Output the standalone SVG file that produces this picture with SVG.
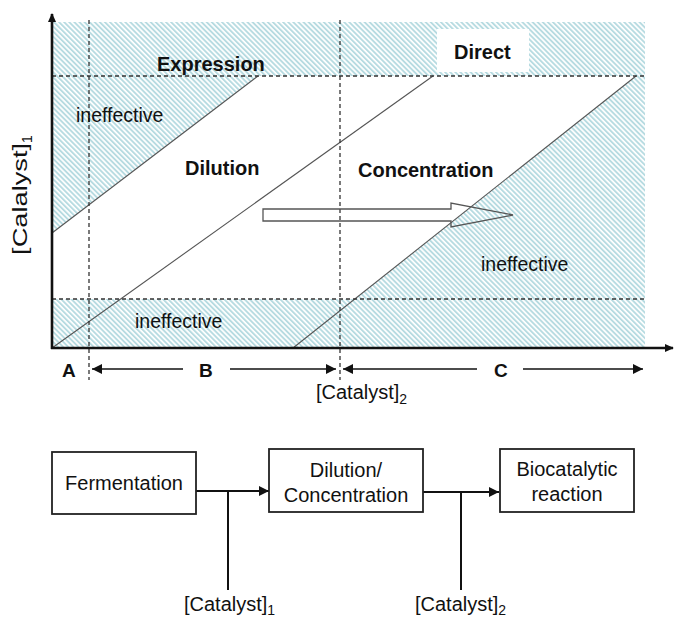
<svg xmlns="http://www.w3.org/2000/svg" width="674" height="620" viewBox="0 0 674 620">
  <defs>
    <pattern id="hatch" patternUnits="userSpaceOnUse" width="3.6" height="3.6" patternTransform="rotate(-45)">
      <rect width="3.6" height="3.6" fill="#ffffff"/>
      <rect width="1.9" height="3.6" fill="#b7dbe1"/>
    </pattern>
    <marker id="tri" viewBox="0 0 10 10" refX="10" refY="5" markerWidth="10" markerHeight="10" markerUnits="userSpaceOnUse" orient="auto">
      <path d="M0,0 L10,5 L0,10 Z" fill="#111"/>
    </marker>
    <marker id="axhead" viewBox="0 0 10 10" refX="9" refY="5" markerWidth="9" markerHeight="9" markerUnits="userSpaceOnUse" orient="auto">
      <path d="M0,0.5 L10,5 L0,9.5 Z" fill="#111"/>
    </marker>
  </defs>
  <style>
    .t { font-family: "Liberation Sans", Arial, sans-serif; fill: #111; }
    .b { font-weight: bold; font-size: 20px; }
    .n { font-size: 19.5px; }
    .lab { font-size: 19px; font-weight: bold; }
    .dash { stroke: #333; stroke-width: 1.3; stroke-dasharray: 4 3; fill: none; }
    .diag { stroke: #555; stroke-width: 1.1; fill: none; }
    .axis { stroke: #111; stroke-width: 2.6; fill: none; }
    .box { fill: #fff; stroke: #222; stroke-width: 1.8; }
    .conn { stroke: #111; stroke-width: 2; fill: none; }
    .rng { stroke: #111; stroke-width: 1.4; fill: none; }
    .bt { font-size: 20px; }
  </style>

  <g id="plot">
    <g id="hatched-regions" fill="url(#hatch)">
      <rect x="52" y="22" width="593" height="54"/>
      <polygon points="52,76 258,76 52,233"/>
      <rect x="52" y="299" width="593" height="49"/>
      <polygon points="636,76 645,76 645,299 355,299"/>
    </g>
    <rect id="direct-bg" x="437" y="29" width="92" height="43" fill="#fff"/>
    <g id="diagonals">
      <line class="diag" x1="52" y1="233" x2="258" y2="76"/>
      <line class="diag" x1="52" y1="348" x2="433" y2="76"/>
      <line class="diag" x1="293" y1="348" x2="636" y2="76"/>
    </g>
    <g id="dashed-lines">
      <line class="dash" x1="52" y1="76" x2="645" y2="76"/>
      <line class="dash" x1="52" y1="299" x2="645" y2="299"/>
      <line class="dash" x1="89" y1="20" x2="89" y2="380"/>
      <line class="dash" x1="340" y1="20" x2="340" y2="380"/>
    </g>
    <polygon id="shift-arrow" points="263,209 451,209 451,203 513,215 451,227 451,221 263,221" fill="none" stroke="#555" stroke-width="1.3"/>
    <g id="axes">
      <line class="axis" x1="52" y1="349" x2="52" y2="14" marker-end="url(#axhead)"/>
      <line class="axis" x1="51" y1="348" x2="673" y2="348" marker-end="url(#axhead)"/>
    </g>
    <g id="region-labels">
      <text class="t b" x="157" y="71">Expression</text>
      <text class="t b" x="454" y="59">Direct</text>
      <text class="t b" x="185" y="175">Dilution</text>
      <text class="t b" x="358" y="177">Concentration</text>
      <text class="t n" x="76" y="122">ineffective</text>
      <text class="t n" x="135" y="328">ineffective</text>
      <text class="t n" x="481" y="271">ineffective</text>
    </g>
    <g id="ranges">
      <text class="t lab" x="62" y="377">A</text>
      <text class="t lab" x="199" y="377">B</text>
      <text class="t lab" x="494" y="377">C</text>
      <line class="rng" x1="183" y1="369" x2="92" y2="369" marker-end="url(#tri)"/>
      <line class="rng" x1="230" y1="369" x2="336" y2="369" marker-end="url(#tri)"/>
      <line class="rng" x1="477" y1="369" x2="343" y2="369" marker-end="url(#tri)"/>
      <line class="rng" x1="523" y1="369" x2="643" y2="369" marker-end="url(#tri)"/>
    </g>
    <text class="t bt" x="316" y="399">[Catalyst]<tspan font-size="14" dy="5">2</tspan></text>
    <text class="t bt" transform="translate(27,195) rotate(-90)" text-anchor="middle"><tspan textLength="112" lengthAdjust="spacingAndGlyphs">[Calalyst]</tspan><tspan font-size="14" dy="5">1</tspan></text>
  </g>

  <g id="connectors">
    <line class="conn" x1="196" y1="491" x2="269" y2="491" marker-end="url(#tri)"/>
    <line class="conn" x1="228" y1="491" x2="228" y2="590"/>
    <line class="conn" x1="423" y1="492" x2="499" y2="492" marker-end="url(#tri)"/>
    <line class="conn" x1="461" y1="492" x2="461" y2="590"/>
  </g>

  <g id="node-fermentation">
    <rect class="box" x="52" y="452" width="144" height="62"/>
    <text class="t bt" x="124" y="490" text-anchor="middle">Fermentation</text>
  </g>
  <g id="node-dilution">
    <rect class="box" x="269" y="449" width="154" height="63"/>
    <text class="t bt" x="346" y="477" text-anchor="middle">Dilution/</text>
    <text class="t bt" x="346" y="502" text-anchor="middle">Concentration</text>
  </g>
  <g id="node-biocatalytic">
    <rect class="box" x="500" y="449" width="134" height="63"/>
    <text class="t bt" x="567" y="476" text-anchor="middle">Biocatalytic</text>
    <text class="t bt" x="567" y="501" text-anchor="middle">reaction</text>
  </g>
  <g id="labels-bottom">
    <text class="t bt" x="184" y="611">[Catalyst]<tspan font-size="14" dy="4">1</tspan></text>
    <text class="t bt" x="415" y="611">[Catalyst]<tspan font-size="14" dy="4">2</tspan></text>
  </g>
</svg>
